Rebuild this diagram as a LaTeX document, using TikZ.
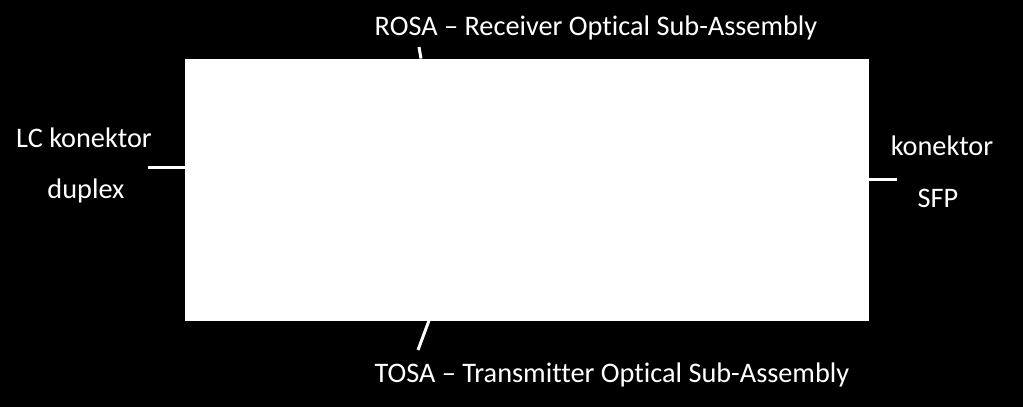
\documentclass[tikz,border=0pt]{standalone}
\usepackage{fontspec}
\setmainfont[Ligatures=NoCommon]{Carlito}
\begin{document}
\begin{tikzpicture}[x=1pt,y=-1pt,
  lbl/.style={text=white,font=\fontsize{28.3}{32}\selectfont,anchor=base,inner sep=0pt},
  tick/.style={draw=white,line width=3pt}]
\fill[black] (0,0) rectangle (1023,407);
\useasboundingbox (0,0) rectangle (1023,407);
\node[fill=white,draw=none,minimum width=684pt,minimum height=262pt,inner sep=0pt,anchor=north west] (box) at (184.5,58.5) {};
\node[lbl] (rosa) at (596,35) {ROSA – Receiver Optical Sub-Assembly};
\node[lbl] (tosa) at (612,382) {TOSA – Transmitter Optical Sub-Assembly};
\node[lbl] (lc) at (84,147) {LC konektor};
\node[lbl] (dup) at (86,198) {duplex};
\node[lbl] (kon) at (942,155) {konektor};
\node[lbl] (sfp) at (938,207) {SFP};
\coordinate (rt) at (419,47);
\coordinate (tt) at (418,350);
\coordinate (lt) at (148,167);
\coordinate (kt) at (897,179);
\draw[tick] (rt) -- (421,58.5);
\draw[tick] (tt) -- (429,320.5);
\draw[tick] (lt) -- (lt -| box.west);
\draw[tick] (kt) -- (kt -| box.east);
\end{tikzpicture}
\end{document}
